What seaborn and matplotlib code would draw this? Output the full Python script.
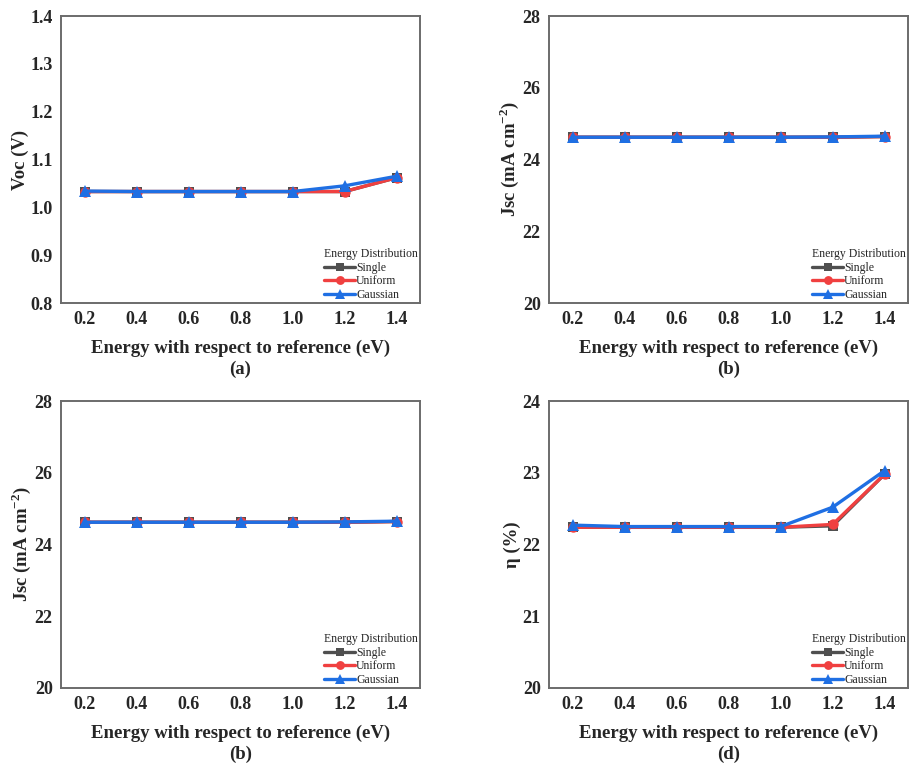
import matplotlib
matplotlib.use("Agg")
import matplotlib.pyplot as plt
import seaborn as sns
import pandas as pd

sns.set_theme(style="white")
plt.rcParams['font.family'] = ['Liberation Serif', 'DejaVu Serif']
plt.rcParams['mathtext.fontset'] = 'custom'
plt.rcParams['mathtext.rm'] = 'Liberation Serif:bold'
plt.rcParams['mathtext.bf'] = 'Liberation Serif:bold'

energy = [0.2, 0.4, 0.6, 0.8, 1.0, 1.2, 1.4]
series_names = ["Single", "Uniform", "Gaussian"]
colors = ["#4f4f4f", "#f04040", "#1f6fe3"]
markers = ["s", "o", "^"]
msizes = [6.5, 7.5, 8.5]

voc_single = [1.033, 1.033, 1.033, 1.033, 1.033, 1.033, 1.062]
voc_uniform = [1.033, 1.033, 1.033, 1.033, 1.033, 1.033, 1.062]
voc_gaussian = [1.034, 1.033, 1.033, 1.033, 1.033, 1.045, 1.065]

jsc_single = [24.62, 24.62, 24.62, 24.62, 24.62, 24.62, 24.64]
jsc_uniform = [24.62, 24.62, 24.62, 24.62, 24.62, 24.62, 24.64]
jsc_gaussian = [24.62, 24.62, 24.62, 24.62, 24.62, 24.63, 24.65]

eta_single = [22.24, 22.24, 22.24, 22.24, 22.24, 22.26, 22.98]
eta_uniform = [22.24, 22.24, 22.24, 22.24, 22.24, 22.28, 22.98]
eta_gaussian = [22.27, 22.25, 22.25, 22.25, 22.25, 22.52, 23.03]

panels = [
    dict(vals=[voc_single, voc_uniform, voc_gaussian], ylabel="Voc (V)",
         ylim=(0.8, 1.4), yticks=[0.8, 0.9, 1.0, 1.1, 1.2, 1.3, 1.4], yfmt="{:.1f}", tag="(a)"),
    dict(vals=[jsc_single, jsc_uniform, jsc_gaussian], ylabel=r"Jsc (mA cm$^{\mathbf{-2}}$)",
         ylim=(20, 28), yticks=[20, 22, 24, 26, 28], yfmt="{:.0f}", tag="(b)"),
    dict(vals=[jsc_single, jsc_uniform, jsc_gaussian], ylabel=r"Jsc (mA cm$^{\mathbf{-2}}$)",
         ylim=(20, 28), yticks=[20, 22, 24, 26, 28], yfmt="{:.0f}", tag="(b)"),
    dict(vals=[eta_single, eta_uniform, eta_gaussian], ylabel="η (%)",
         ylim=(20, 24), yticks=[20, 21, 22, 23, 24], yfmt="{:.0f}", tag="(d)"),
]

fig = plt.figure(figsize=(9.1, 7.69), dpi=100)
W, H = 910, 769
boxes = [(61, 16, 359, 287), (549, 16, 359, 287), (61, 401, 359, 287), (549, 401, 359, 287)]

for p, (l, t, w, h) in zip(panels, boxes):
    ax = fig.add_axes([l / W, 1 - (t + h) / H, w / W, h / H])
    for name, vals, c, m, ms in zip(series_names, p["vals"], colors, markers, msizes):
        df = pd.DataFrame({"Energy": energy, "Value": vals})
        sns.lineplot(data=df, x="Energy", y="Value", color=c, marker=m,
                     linewidth=2.4, markersize=ms, markeredgewidth=0, label=name, ax=ax)
    ax.set_xlim(0.108, 1.49)
    ax.set_ylim(*p["ylim"])
    ax.set_xticks(energy)
    ax.set_xticklabels([f"{e:.1f}" for e in energy], fontsize=13, fontweight="bold")
    ax.set_yticks(p["yticks"])
    ax.set_yticklabels([p["yfmt"].format(v) for v in p["yticks"]], fontsize=13, fontweight="bold")
    ax.tick_params(axis="both", length=0, pad=6)
    ax.set_xlabel("Energy with respect to reference (eV)", fontsize=13.5, fontweight="bold", labelpad=8)
    ax.set_ylabel(p["ylabel"], fontsize=13.5, fontweight="bold", labelpad=1)
    ax.text(0.5, -0.2, p["tag"], transform=ax.transAxes, ha="center", va="top",
            fontsize=13.5, fontweight="bold")
    for s in ax.spines.values():
        s.set_color("#6b6b6b")
        s.set_linewidth(1.4)
    leg = ax.legend(title="Energy Distribution", loc="lower right", frameon=False,
                    fontsize=8.5, title_fontsize=8.5, handlelength=2.6, handletextpad=0.1,
                    labelspacing=0.15, borderaxespad=0.05, borderpad=0.1,
                    markerscale=0.85)
    leg._legend_box.align = "left"

fig.savefig("out.png", dpi=100)
